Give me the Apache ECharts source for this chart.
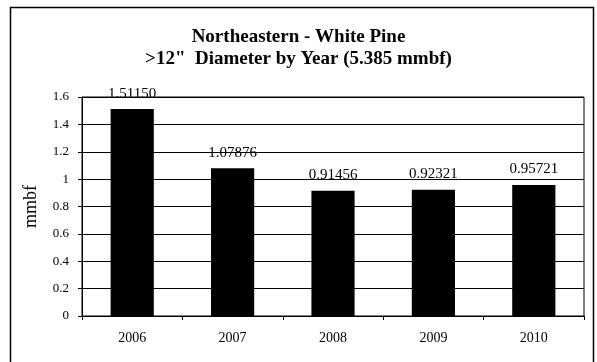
<!DOCTYPE html>
<html><head><meta charset="utf-8">
<script src="https://cdn.jsdelivr.net/npm/echarts@6/dist/echarts.min.js"></script>
<style>html,body{margin:0;padding:0;background:#fff}#c{width:597px;height:362px}</style>
</head><body><div id="c"></div>
<script>
const categories = ['2006','2007','2008','2009','2010'];
const values = [1.51150, 1.07876, 0.91456, 0.92321, 0.95721];
const valueLabels = ['1.51150','1.07876','0.91456','0.92321','0.95721'];
const yTicks = [0, 0.2, 0.4, 0.6, 0.8, 1, 1.2, 1.4, 1.6];

const chart = echarts.init(document.getElementById('c'));
const serif = '"Liberation Serif","DejaVu Serif",serif';
chart.setOption({
  animation: false,
  backgroundColor: '#fff',
  graphic: [{
    type: 'rect', shape: {x: 10.5, y: 7.5, width: 583, height: 370},
    style: {fill: 'none', stroke: '#000', lineWidth: 1.5}, silent: true
  }],
  title: {
    text: 'Northeastern - White Pine\n>12"  Diameter by Year (5.385 mmbf)',
    left: 'center', top: 21,
    textStyle: {fontFamily: serif, fontWeight: 'bold', fontSize: 19, lineHeight: 22, color: '#000'}
  },
  grid: {left: 82, right: 13, top: 97, bottom: 46, show: true, borderColor: '#000', borderWidth: 1},
  xAxis: {
    type: 'category', data: categories,
    axisLine: {lineStyle: {color: '#000'}},
    axisTick: {show: true, alignWithLabel: false, length: 4, lineStyle: {color: '#000'}},
    axisLabel: {fontFamily: serif, fontSize: 14, color: '#000', margin: 15}
  },
  yAxis: {
    type: 'value', min: 0, max: 1.6, interval: 0.2,
    name: 'mmbf', nameLocation: 'middle', nameGap: 42, nameRotate: 90,
    nameTextStyle: {fontFamily: serif, fontSize: 18, color: '#000'},
    axisLine: {show: true, lineStyle: {color: '#000'}},
    axisTick: {show: true, length: 4, lineStyle: {color: '#000'}},
    splitLine: {show: true, lineStyle: {color: '#000', width: 1}},
    axisLabel: {fontFamily: serif, fontSize: 13, color: '#000', margin: 13,
      formatter: v => { const t = yTicks.find(x => Math.abs(x - v) < 1e-9); return String(t !== undefined ? t : v); }}
  },
  series: [{
    type: 'bar', data: values, barWidth: '43%',
    itemStyle: {color: '#000'},
    label: {show: true, position: 'top', distance: 8, fontFamily: serif, fontSize: 15, color: '#000',
      formatter: p => valueLabels[p.dataIndex]}
  }]
});
</script></body></html>
